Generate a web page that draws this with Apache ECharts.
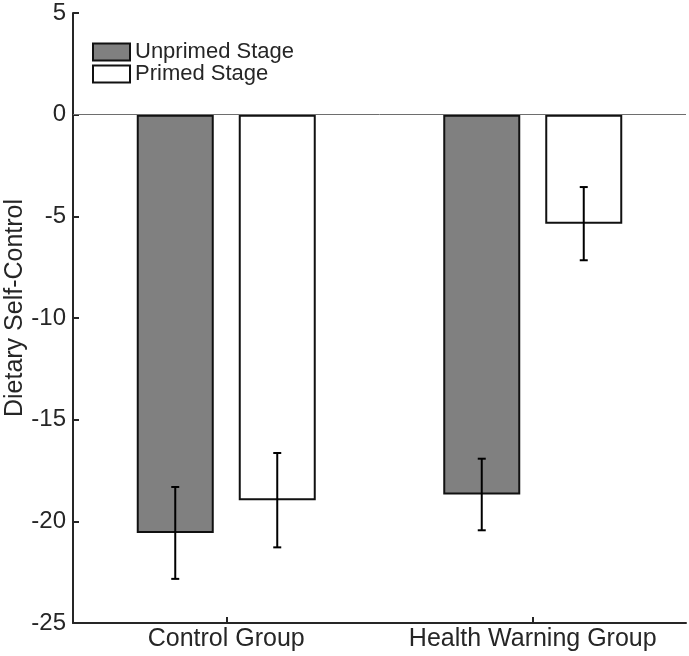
<!DOCTYPE html>
<html>
<head>
<meta charset="utf-8">
<script src="https://cdn.jsdelivr.net/npm/echarts@6/dist/echarts.min.js"></script>
<style>
html,body{margin:0;padding:0;background:#fff;}
#chart{width:689px;height:656px;}
</style>
</head>
<body>
<div id="chart"></div>
<script>
const categories = ['Control Group', 'Health Warning Group'];
const seriesNames = ['Unprimed Stage', 'Primed Stage'];
const unprimed = [-20.57, -18.68];
const primed = [-18.96, -5.36];
const unprimedErr = [2.26, 1.76];
const primedErr = [2.32, 1.80];
const yMin = -25, yMax = 5, yStep = 5;

const FONT = '"Liberation Sans", Arial, Helvetica, sans-serif';
const INK = '#262626';
const BAR_W = 77, BAR_GAP = 25;
const OFFSET = (BAR_W + BAR_GAP) / 2;

const errData = [];
for (let i = 0; i < categories.length; i++) {
  errData.push([i, unprimed[i] - unprimedErr[i], unprimed[i] + unprimedErr[i], -1]);
  errData.push([i, primed[i] - primedErr[i], primed[i] + primedErr[i], 1]);
}

const chart = echarts.init(document.getElementById('chart'));
chart.setOption({
  animation: false,
  backgroundColor: '#fff',
  grid: {left: 73, right: 3, top: 13, bottom: 33, outerBoundsMode: 'none', containLabel: false},
  legend: {
    orient: 'vertical',
    left: 92, top: 41, padding: 0,
    icon: 'rect',
    itemWidth: 37, itemHeight: 17,
    itemGap: 0,
    textStyle: {fontFamily: FONT, fontSize: 22, color: INK, lineHeight: 22},
    data: seriesNames
  },
  xAxis: {
    type: 'category', data: categories,
    axisLine: {show: true, onZero: false, lineStyle: {color: INK, width: 2}},
    axisTick: {show: true, inside: true, length: 6, alignWithLabel: true, lineStyle: {color: INK, width: 2}},
    axisLabel: {show: true, interval: 0, margin: 4, fontFamily: FONT, fontSize: 25, color: INK},
    splitLine: {show: false}
  },
  yAxis: {
    type: 'value', min: yMin, max: yMax, interval: yStep,
    name: 'Dietary Self-Control', nameLocation: 'middle', nameGap: 45, nameMoveOverlap: false,
    nameTextStyle: {fontFamily: FONT, fontSize: 25, color: INK, padding: [0,0,0,20]},
    axisLine: {show: true, onZero: false, lineStyle: {color: INK, width: 2}},
    axisTick: {show: true, inside: true, length: 6, lineStyle: {color: INK, width: 2}},
    axisLabel: {margin: 7, fontFamily: FONT, fontSize: 24, color: INK},
    splitLine: {show: false}
  },
  series: [
    {name: seriesNames[0], type: 'bar', data: unprimed,
     barWidth: BAR_W, barGap: (BAR_GAP / BAR_W * 100) + '%',
     itemStyle: {color: '#808080', borderColor: '#111', borderWidth: 2},
     markLine: {silent: true, symbol: 'none', label: {show: false},
       lineStyle: {color: '#6e6e6e', width: 1, type: 'solid'},
       data: [{yAxis: 0}]}},
    {name: seriesNames[1], type: 'bar', data: primed,
     barWidth: BAR_W,
     itemStyle: {color: '#ffffff', borderColor: '#111', borderWidth: 2}},
    {type: 'custom', data: errData, z: 5,
     renderItem: function (params, api) {
       const c = api.value(0);
       const side = api.value(3);
       const lo = api.coord([c, api.value(1)]);
       const hi = api.coord([c, api.value(2)]);
       const x = lo[0] + side * OFFSET;
       const cap = 4;
       const st = {stroke: '#000', lineWidth: 2};
       return {type: 'group', children: [
         {type: 'line', shape: {x1: x, y1: lo[1], x2: x, y2: hi[1]}, style: st},
         {type: 'line', shape: {x1: x - cap, y1: lo[1], x2: x + cap, y2: lo[1]}, style: st},
         {type: 'line', shape: {x1: x - cap, y1: hi[1], x2: x + cap, y2: hi[1]}, style: st}
       ]};
     }}
  ]
});
</script>
</body>
</html>
